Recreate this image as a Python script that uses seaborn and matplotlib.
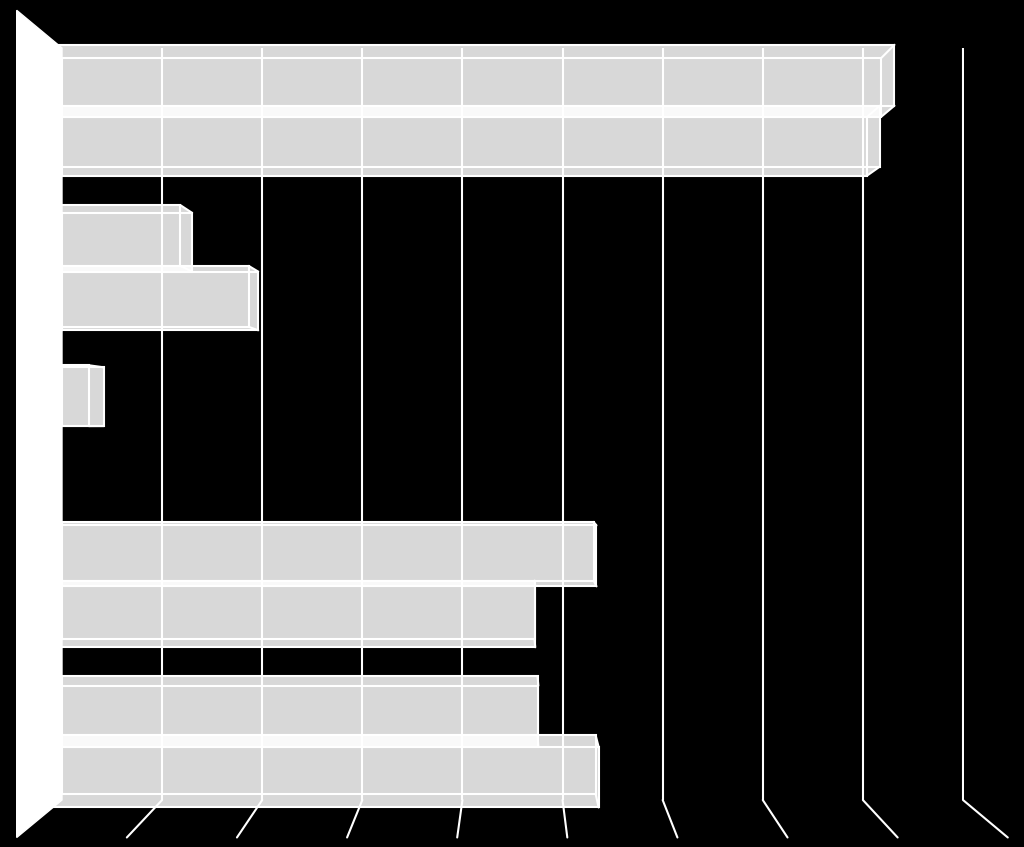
import matplotlib
matplotlib.use('Agg')
import matplotlib.pyplot as plt
from matplotlib.patches import Polygon
from matplotlib.lines import Line2D
from matplotlib.transforms import IdentityTransform
import seaborn as sns
import pandas as pd
import numpy as np

# data (no labels are shown in the reference)
groups = ['G1', 'G2', 'G3', 'G4', 'G5']
series_a = [8.18, 1.30, 0.42, 5.31, 4.75]
series_b = [8.04, 1.96, 0.00, 4.72, 5.33]
grid_ticks = list(range(1, 10))

df = pd.DataFrame({
    'group': groups * 2,
    'series': ['a'] * len(groups) + ['b'] * len(groups),
    'value': series_a + series_b,
})

# fake 3d camera (pixels, display coords)
CENTER = np.array([515.0, 847 - 425.0])
BAR_DEPTH = 1.037
WALL_DEPTH = 1.10
LW = 1.5


def project(pts, f):
    return CENTER + f * (np.asarray(pts, dtype=float) - CENTER)


def hull(points):
    pts = sorted(map(tuple, points))
    def cross(o, a, b):
        return (a[0] - o[0]) * (b[1] - o[1]) - (a[1] - o[1]) * (b[0] - o[0])
    lower, upper = [], []
    for p in pts:
        while len(lower) >= 2 and cross(lower[-2], lower[-1], p) <= 0:
            lower.pop()
        lower.append(p)
    for p in reversed(pts):
        while len(upper) >= 2 and cross(upper[-2], upper[-1], p) <= 0:
            upper.pop()
        upper.append(p)
    return np.array(lower[:-1] + upper[:-1])


sns.set_style("white")
plt.rcParams['font.family'] = ['DejaVu Sans']

fig = plt.figure(figsize=(10.24, 8.47), dpi=100, facecolor='black')
ax = fig.add_axes([62 / 1024, 1 - 800 / 847, (964 - 62) / 1024, 752 / 847])
ax.set_facecolor('black')

sns.barplot(data=df, x='value', y='group', hue='series', orient='h', width=0.76,
            palette=['white', 'white'], fill=False, errorbar=None, legend=False,
            linewidth=LW, ax=ax, zorder=3)

ax.set_xlim(0, 9.01)
ax.set_ylim(4.42, -0.447)
ax.set_xticks(grid_ticks)
ax.grid(axis='x', color='white', lw=LW)
ax.grid(axis='y', visible=False)
ax.set_axisbelow(True)
ax.tick_params(length=0, labelbottom=False, labelleft=False)
ax.set_xlabel('')
ax.set_ylabel('')
for s in ax.spines.values():
    s.set_visible(False)

ident = IdentityTransform()

# 3d boxes around each bar
for p in list(ax.patches):
    w, h = p.get_width(), p.get_height()
    if abs(w) < 1e-9:
        p.set_visible(False)
        continue
    x0, y0 = p.get_x(), p.get_y()
    back = ax.transData.transform([(x0, y0), (x0 + w, y0), (x0 + w, y0 + h), (x0, y0 + h)])
    front = project(back, BAR_DEPTH)
    ax.add_patch(Polygon(hull(np.vstack([back, front])), closed=True, facecolor='white',
                         alpha=0.85, edgecolor='none', transform=ident, clip_on=False, zorder=2))
    ax.add_patch(Polygon(front, closed=True, fill=False, edgecolor='white', lw=LW,
                         transform=ident, clip_on=False, zorder=4))
    for b, f in zip(back, front):
        ax.add_line(Line2D([b[0], f[0]], [b[1], f[1]], color='white', lw=LW,
                           transform=ident, clip_on=False, zorder=4))

# floor lines under the gridlines
ylo = ax.get_ylim()[0]
for t in grid_ticks:
    b = ax.transData.transform([(t, ylo)])[0]
    f = project([b], WALL_DEPTH)[0]
    ax.add_line(Line2D([b[0], f[0]], [b[1], f[1]], color='white', lw=LW,
                       transform=ident, clip_on=False, zorder=1))

# left wall
bb = ax.bbox
wall_back = np.array([(bb.x0, bb.y1), (bb.x0, bb.y0)])
wall_front = project(wall_back, WALL_DEPTH)
ax.add_patch(Polygon([wall_back[0], wall_front[0], wall_front[1], wall_back[1]], closed=True,
                     facecolor='white', edgecolor='white', lw=1, transform=ident,
                     clip_on=False, zorder=10))

fig.savefig('out.png', dpi=100, facecolor='black')
